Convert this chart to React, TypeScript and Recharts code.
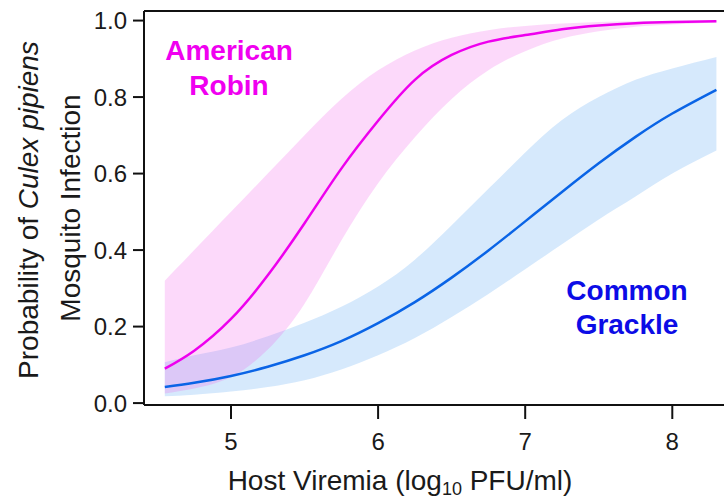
import { ComposedChart, Area, Line, XAxis, YAxis, ReferenceLine, Customized } from "recharts";

// host viremia (log10 PFU/ml) where the fitted curves were read
const viremia = [4.55, 4.75, 5.0, 5.25, 5.5, 5.75, 6.0, 6.25, 6.5, 6.75, 7.0, 7.25, 7.5, 7.75, 8.0, 8.3];

// American Robin: fit and 95% band
const robinFit = [0.09, 0.137, 0.22, 0.334, 0.47, 0.613, 0.738, 0.845, 0.91, 0.945, 0.962, 0.977, 0.987, 0.993, 0.996, 0.998];
const robinLow = [0.025, 0.038, 0.068, 0.14, 0.26, 0.425, 0.575, 0.695, 0.795, 0.87, 0.92, 0.953, 0.972, 0.984, 0.99, 0.995];
const robinHigh = [0.32, 0.4, 0.5, 0.6, 0.7, 0.795, 0.87, 0.922, 0.955, 0.975, 0.986, 0.992, 0.996, 0.998, 0.999, 0.999];

// Common Grackle: fit and 95% band
const grackleFit = [0.042, 0.053, 0.071, 0.095, 0.125, 0.162, 0.209, 0.264, 0.328, 0.399, 0.475, 0.552, 0.627, 0.696, 0.757, 0.819];
const grackleLow = [0.018, 0.022, 0.03, 0.042, 0.06, 0.088, 0.125, 0.17, 0.225, 0.285, 0.35, 0.415, 0.48, 0.54, 0.6, 0.66];
const grackleHigh = [0.107, 0.125, 0.145, 0.175, 0.21, 0.252, 0.305, 0.375, 0.465, 0.56, 0.655, 0.74, 0.8, 0.845, 0.875, 0.905];

const xTicks = [5, 6, 7, 8];
const yTicks = [0, 0.2, 0.4, 0.6, 0.8, 1.0];

const data = viremia.map((x, i) => ({
  x,
  robin: robinFit[i],
  robinBand: [robinLow[i], robinHigh[i]],
  grackle: grackleFit[i],
  grackleBand: [grackleLow[i], grackleHigh[i]],
}));

const tickFont = '"Liberation Sans Narrow", "Arial Narrow", Arial, sans-serif';
const titleFont = 'Arial, "Liberation Sans", sans-serif';

function Annotations() {
  return (
    <g fontFamily={titleFont}>
      <text x={38} y={210} transform="rotate(-90 38 210)" textAnchor="middle" fontSize={28} fill="#1a1a1a">
        Probability of <tspan fontStyle="italic">Culex pipiens</tspan>
      </text>
      <text x={80} y={208} transform="rotate(-90 80 208)" textAnchor="middle" fontSize={28} fill="#1a1a1a">
        Mosquito Infection
      </text>
      <text x={400} y={490} textAnchor="middle" fontSize={28} fill="#1a1a1a">
        Host Viremia (log<tspan fontSize={18} dy={5}>10</tspan><tspan dy={-5}> PFU/ml)</tspan>
      </text>
      <g fontWeight="bold" fontSize={28} fill="#f000f0" textAnchor="middle">
        <text x={229} y={60}>American</text>
        <text x={229} y={95}>Robin</text>
      </g>
      <g fontWeight="bold" fontSize={28} fill="#0c0ce6" textAnchor="middle">
        <text x={627} y={300}>Common</text>
        <text x={627} y={334}>Grackle</text>
      </g>
    </g>
  );
}

export default function App() {
  return (
    <div style={{ width: 724, height: 502, background: "#fff" }}>
      <style>{`body{margin:0;background:#fff}`}</style>
      <ComposedChart width={724} height={502} data={data} margin={{ top: 11, right: 0, bottom: 0, left: 0 }}>
        <XAxis
          dataKey="x"
          type="number"
          domain={[4.4086, 8.3515]}
          ticks={xTicks}
          allowDataOverflow
          height={97}
          stroke="#111"
          strokeWidth={2}
          tickSize={14}
          tickMargin={14}
          tick={{ fill: "#1a1a1a", fontSize: 24, fontFamily: tickFont }}
        />
        <YAxis
          type="number"
          domain={[-0.005, 1.025]}
          ticks={yTicks}
          allowDataOverflow
          width={144}
          stroke="#111"
          strokeWidth={2}
          tickSize={11}
          tickMargin={6}
          tickFormatter={(v: number) => v.toFixed(1)}
          tick={{ fill: "#1a1a1a", fontSize: 24, fontFamily: tickFont }}
        />
        <ReferenceLine y={1.025} stroke="#111" strokeWidth={2} />
        <Area
          dataKey="grackleBand"
          type="natural"
          stroke="none"
          fill="#3090f0"
          fillOpacity={0.2}
          isAnimationActive={false}
        />
        <Area
          dataKey="robinBand"
          type="natural"
          stroke="none"
          fill="#f050e8"
          fillOpacity={0.22}
          isAnimationActive={false}
        />
        <Line dataKey="grackle" type="natural" stroke="#0a64e6" strokeWidth={2.5} dot={false} isAnimationActive={false} />
        <Line dataKey="robin" type="natural" stroke="#ee00ee" strokeWidth={2.5} dot={false} isAnimationActive={false} />
        <Customized component={Annotations} />
      </ComposedChart>
    </div>
  );
}
